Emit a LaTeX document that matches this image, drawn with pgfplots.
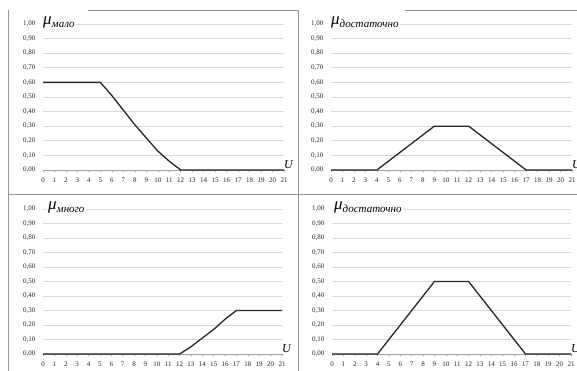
\documentclass[border=0pt]{standalone}
\usepackage{pgfplots}
\pgfplotsset{compat=1.18}
\usepackage{fontspec}
\setmainfont{Liberation Serif}
\definecolor{gridc}{RGB}{217,217,217}
\definecolor{framec}{RGB}{150,150,150}
\definecolor{axc}{RGB}{160,160,160}
\pgfplotsset{
  panel/.style={
    scale only axis,
    anchor=south west,
    xmin=0, xmax=21, ymin=0, ymax=1,
    xtick={0,...,21},
    ytick={0,0.1,...,1.0},
    axis x line*=bottom,
    axis y line*=left,
    y axis line style={draw=none},
    x axis line style={draw=axc, line width=0.6pt},
    ymajorgrids,
    grid style={gridc, line width=0.7pt},
    ytick style={draw=none},
    xtick style={draw=axc, line width=0.5pt},
    tick align=outside,
    major tick length=2.5pt,
    ticklabel style={font=\fontsize{7}{8}\selectfont, text=black!85},
    xticklabel style={yshift=-2pt},
    yticklabel style={xshift=-1.5pt},
    /pgf/number format/assume math mode=true,
    yticklabel={\pgfmathprintnumber[fixed, fixed zerofill, precision=2, use comma]{\tick}},
    clip=false,
  },
  curve/.style={black!85, line width=1.3pt, line join=round},
}
\newcommand{\mutitle}[1]{{\fontsize{17}{17}\selectfont μ}\raisebox{-2.5pt}{\fontsize{11}{11}\selectfont #1}}
\begin{document}
\begin{tikzpicture}
\path[use as bounding box] (0pt,0pt) rectangle (577pt,371pt);
% frame lines
\draw[framec, line width=0.7pt] (8pt,0pt) -- (8pt,361pt);
\draw[framec, line width=0.7pt] (88pt,361pt) -- (298pt,361pt);
\draw[framec, line width=0.7pt] (405pt,361pt) -- (577pt,361pt);
\draw[framec, line width=0.7pt] (298pt,0pt) -- (298pt,361pt);
\draw[framec, line width=0.7pt] (8pt,177pt) -- (577pt,177pt);

% Panel 1
\begin{axis}[panel, at={(43pt,201pt)}, width=241pt, height=146pt]
\addplot[curve] coordinates {(0,0.6) (1,0.6) (2,0.6) (3,0.6) (4,0.6) (5,0.6) (6,0.51) (7,0.41) (8,0.31) (9,0.22) (10,0.13) (11,0.06) (12,0) (13,0) (14,0) (15,0) (16,0) (17,0) (18,0) (19,0) (20,0) (21,0)};
\node[anchor=south west, inner sep=0pt, font=\fontsize{12}{12}\selectfont\itshape] at (axis cs:21,0.01) {U};
\end{axis}
\node[anchor=base west, fill=white, inner sep=1pt, font=\itshape] at (42pt,346pt) {\mutitle{мало}};

% Panel 2
\begin{axis}[panel, at={(331pt,201pt)}, width=241pt, height=146pt]
\addplot[curve] coordinates {(0,0) (1,0) (2,0) (3,0) (4,0) (5,0.06) (6,0.12) (7,0.18) (8,0.24) (9,0.3) (10,0.3) (11,0.3) (12,0.3) (13,0.24) (14,0.18) (15,0.12) (16,0.06) (17,0) (18,0) (19,0) (20,0) (21,0)};
\node[anchor=south west, inner sep=0pt, font=\fontsize{12}{12}\selectfont\itshape] at (axis cs:21,0.01) {U};
\end{axis}
\node[anchor=base west, fill=white, inner sep=1pt, font=\itshape] at (330pt,346pt) {\mutitle{достаточно}};

% Panel 3
\begin{axis}[panel, at={(43pt,17pt)}, width=239pt, height=145pt]
\addplot[curve] coordinates {(0,0) (1,0) (2,0) (3,0) (4,0) (5,0) (6,0) (7,0) (8,0) (9,0) (10,0) (11,0) (12,0) (13,0.05) (14,0.11) (15,0.17) (16,0.24) (17,0.3) (18,0.3) (19,0.3) (20,0.3) (21,0.3)};
\node[anchor=south west, inner sep=0pt, font=\fontsize{12}{12}\selectfont\itshape] at (axis cs:21,0.01) {U};
\end{axis}
\node[anchor=base west, fill=white, inner sep=1pt, font=\itshape] at (47pt,161pt) {\mutitle{много}};

% Panel 4
\begin{axis}[panel, at={(332pt,17pt)}, width=239pt, height=145pt]
\addplot[curve] coordinates {(0,0) (1,0) (2,0) (3,0) (4,0) (5,0.1) (6,0.2) (7,0.3) (8,0.4) (9,0.5) (10,0.5) (11,0.5) (12,0.5) (13,0.4) (14,0.3) (15,0.2) (16,0.1) (17,0) (18,0) (19,0) (20,0) (21,0)};
\node[anchor=south west, inner sep=0pt, font=\fontsize{12}{12}\selectfont\itshape] at (axis cs:21,0.01) {U};
\end{axis}
\node[anchor=base west, fill=white, inner sep=1pt, font=\itshape] at (333pt,161pt) {\mutitle{достаточно}};
\end{tikzpicture}
\end{document}
